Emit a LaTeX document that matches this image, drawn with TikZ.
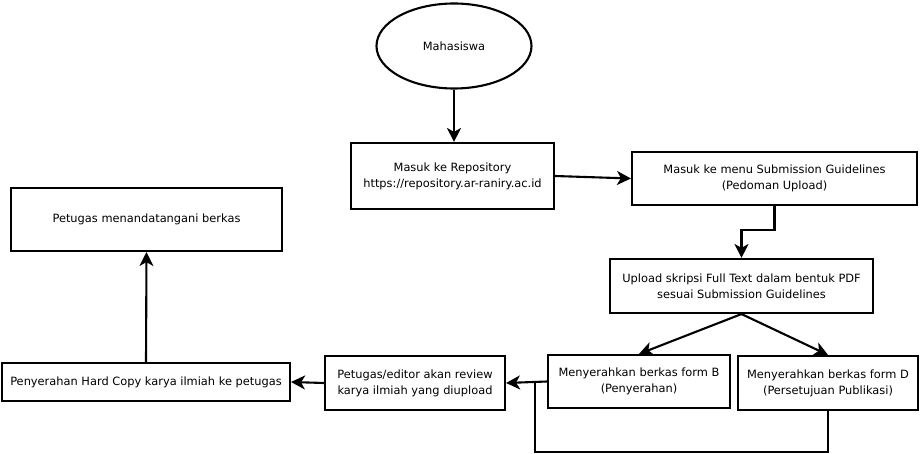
\documentclass[tikz,border=0pt]{standalone}
\usepackage{fontspec}
\setmainfont{DejaVu Sans}
\usetikzlibrary{arrows.meta,shapes.geometric}
\begin{document}
\begin{tikzpicture}[x=1pt,y=-1pt,
  font=\fontsize{11.4}{16}\selectfont,
  box/.style={draw, line width=2.1pt, align=center, inner sep=0pt, fill=white},
  oval/.style={draw, ellipse, line width=2.1pt, inner sep=0pt, fill=white},
  arr/.style={line width=2.1pt, -{Stealth[length=14pt,width=14pt,inset=4pt]}},
  ln/.style={line width=2.1pt}]
\fill[white] (0,0) rectangle (924,454);
\useasboundingbox (0,0) rectangle (924,454);

\node[oval, minimum width=155pt, minimum height=85pt] (mhs) at (454,46) {Mahasiswa};
\node[box, minimum width=203pt, minimum height=66pt] (b1) at (452.5,176) {Masuk ke Repository\\https://repository.ar-raniry.ac.id};
\node[box, minimum width=285pt, minimum height=53pt] (b2) at (774.5,178.5) {Masuk ke menu Submission Guidelines\\(Pedoman Upload)};
\node[box, minimum width=263pt, minimum height=54pt] (b3) at (741.5,286) {Upload skripsi Full Text dalam bentuk PDF\\sesuai Submission Guidelines};
\node[box, minimum width=182pt, minimum height=53pt] (bB) at (639,381.5) {Menyerahkan berkas form B\\(Penyerahan)};
\node[box, minimum width=180pt, minimum height=54pt] (bD) at (828,383) {Menyerahkan berkas form D\\(Persetujuan Publikasi)};
\node[box, minimum width=180pt, minimum height=54pt] (ed) at (415,383) {Petugas/editor akan review\\karya ilmiah yang diupload};
\node[box, minimum width=288pt, minimum height=38pt] (hc) at (146,382) {Penyerahan Hard Copy karya ilmiah ke petugas};
\node[box, minimum width=271pt, minimum height=63pt] (sg) at (146.5,219.5) {Petugas menandatangani berkas};

\coordinate (jt) at (535,382.5);
\coordinate (jb) at (535,452);

\draw[arr] (mhs.south) -- (mhs.south |- b1.north);
\draw[arr] (b1.east) -- (b2.west);
\draw[arr] (b2.south) -- ++(0,24) -| (b3.north);
\draw[arr] (b3.south) -- (bB.north);
\draw[arr] (b3.south) -- (bD.north);
\draw[arr] (bB.west) -- (ed.east);
\draw[ln] (bD.south) |- (jb) -- (jt);
\draw[arr] (ed.west) -- (hc.east);
\draw[arr] (hc.north) -- (sg.south);
\end{tikzpicture}
\end{document}
